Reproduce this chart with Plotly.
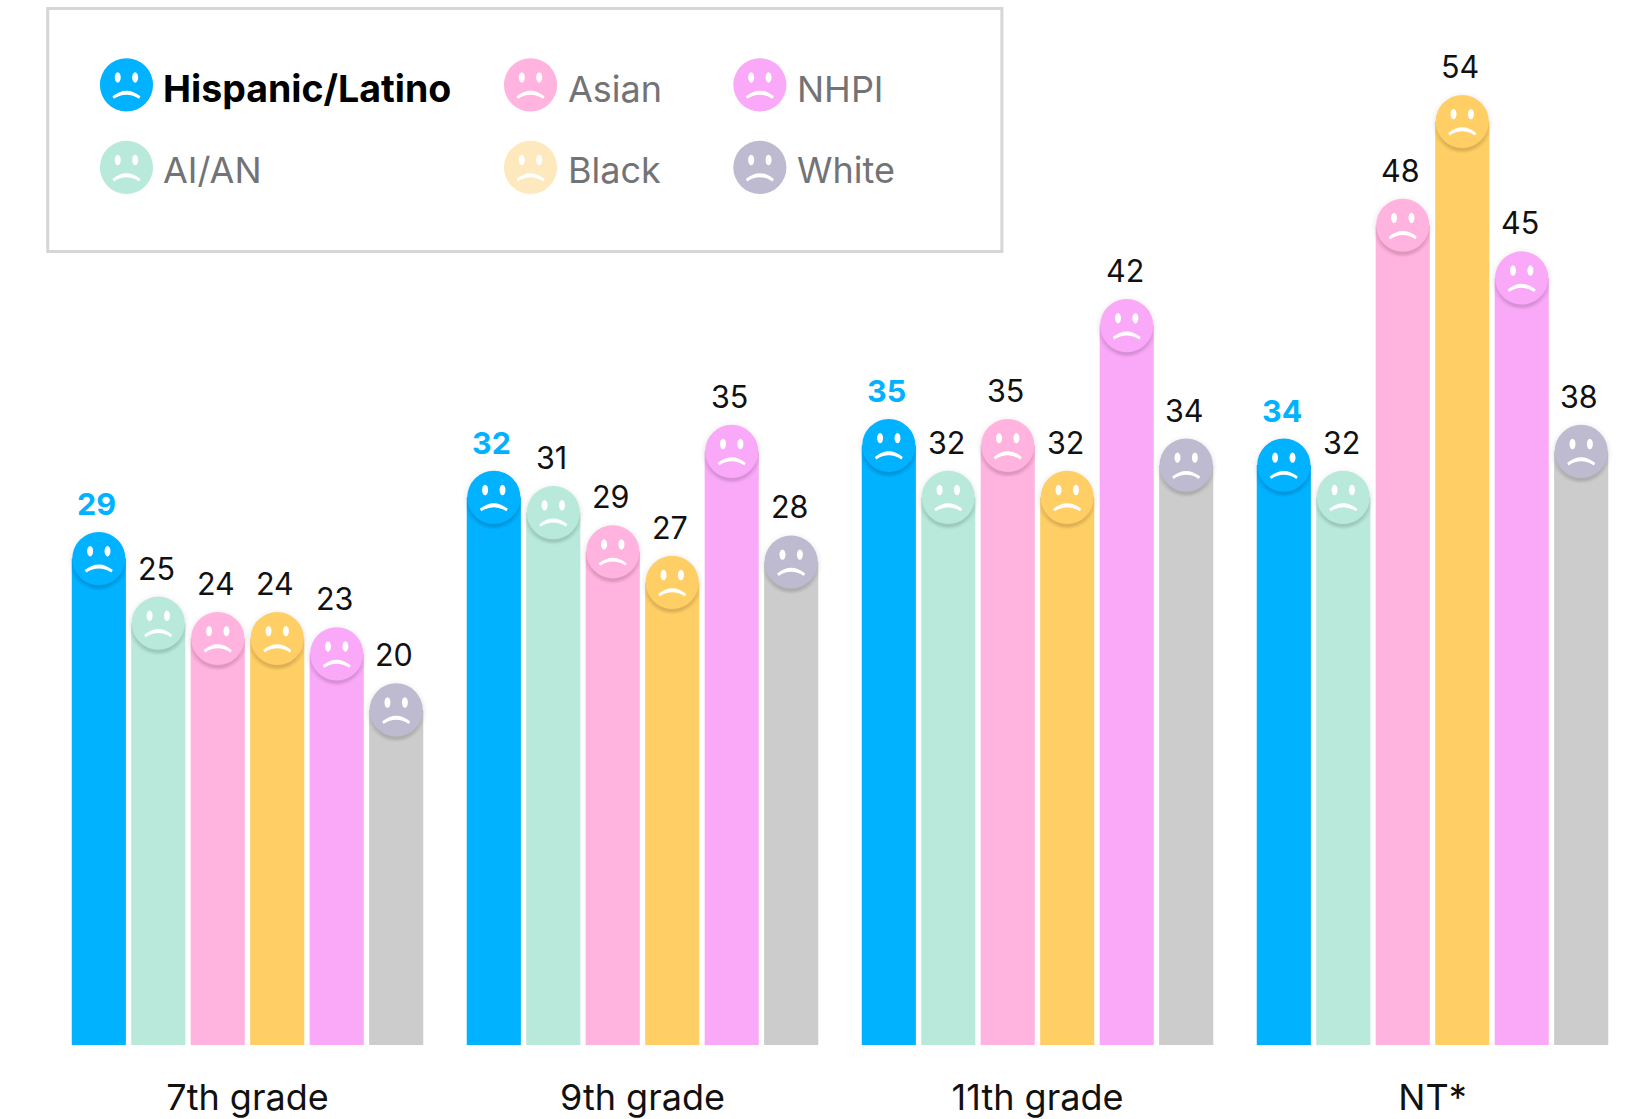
import plotly.graph_objects as go

WIDTH, HEIGHT = 1635, 1119
L, R, T, B = 50.25, 5, 0, 72
PLOT_W = WIDTH - L - R
PLOT_H = HEIGHT - T - B
FONT = "Inter"

grades = ["7th grade", "9th grade", "11th grade", "NT*"]
groups = ["Hispanic/Latino", "AI/AN", "Asian", "Black", "NHPI", "White"]

# bar heights as drawn in the picture
hispanic_heights = [28.6, 32.2, 35.25, 34.1]
aian_heights = [24.8, 31.3, 32.2, 32.2]
asian_heights = [23.9, 29.0, 35.25, 48.2]
black_heights = [23.9, 27.2, 32.2, 54.3]
nhpi_heights = [23.0, 34.9, 42.3, 45.1]
white_heights = [19.7, 28.4, 34.1, 34.9]

# the values printed above the bars
hispanic_labels = [29, 32, 35, 34]
aian_labels = [25, 31, 32, 32]
asian_labels = [24, 29, 35, 48]
black_labels = [24, 27, 32, 54]
nhpi_labels = [23, 35, 42, 45]
white_labels = [20, 28, 34, 38]

heights = [hispanic_heights, aian_heights, asian_heights, black_heights, nhpi_heights, white_heights]
labels = [hispanic_labels, aian_labels, asian_labels, black_labels, nhpi_labels, white_labels]

bar_colors = ["#00B2FF", "#B9E9DB", "#FFB3DE", "#FFCF66", "#F9A9F8", "#CCCCCC"]
face_colors = ["#00B2FF", "#B9E9DB", "#FFB3DE", "#FFCF66", "#F9A9F8", "#BEBBD1"]
legend_colors = ["#00B2FF", "#B9E9DB", "#FFB3DE", "#FDE9BD", "#F9A9F8", "#BEBBD1"]

BARGAP = 0.0966
GROUPGAP = 0.09
PX_PER_UNIT = 17.04
RADIUS = 26.6
X = list(range(len(grades)))

fig = go.Figure()
for name, h, c in zip(groups, heights, bar_colors):
    fig.add_trace(go.Bar(x=X, y=h, name=name, marker=dict(color=c, line=dict(width=0)), showlegend=False, hoverinfo="skip"))

shapes, annotations = [], []


def face(xa, ya, xref, yref, color, shadow=True):
    base = dict(xref=xref, yref=yref, xsizemode="pixel", ysizemode="pixel", xanchor=xa, yanchor=ya, layer="above")
    out = []
    if shadow:
        for dy, grow, op in [(1, 5, 0.008), (1.5, 4, 0.01), (2, 3, 0.012), (2.5, 2, 0.015), (3, 1, 0.018),
                             (3.5, 0, 0.02), (4, -1, 0.022), (4.5, -2, 0.025)]:
            r = RADIUS + grow
            out.append(dict(type="circle", x0=-r, x1=r, y0=-dy - r, y1=-dy + r, fillcolor="#000000",
                            opacity=op, line=dict(width=0), **base))
    out.append(dict(type="circle", x0=-RADIUS, x1=RADIUS, y0=-RADIUS, y1=RADIUS, fillcolor=color,
                    line=dict(width=0), **base))
    for ex in (-8.7, 8.7):
        out.append(dict(type="circle", x0=ex - 3, x1=ex + 3, y0=2.2, y1=12.6, fillcolor="#FFFFFF",
                        line=dict(width=0), **base))
    out.append(dict(type="path", path="M -14 -11.5 Q 0 -0.2 14 -11.5 L 12.6 -14 Q 0 -5.6 -12.6 -14 Z",
                    fillcolor="#FFFFFF", line=dict(width=0), **base))
    return out


period = 1.0
outer = period * (1 - BARGAP)
pitch = outer / len(groups)
for s, (h, lab, fc) in enumerate(zip(heights, labels, face_colors)):
    for g, (v, t) in enumerate(zip(h, lab)):
        xc = g + (s - (len(groups) - 1) / 2) * pitch
        shapes += face(xc, v, "x", "y", fc)
        annotations.append(dict(x=xc, y=v, xref="x", yref="y", text=f"<b>{t}</b>" if s == 0 else str(t),
                                showarrow=False, yshift=55, xshift=-2, xanchor="center", yanchor="middle",
                                font=dict(family=FONT, size=30.5, color="#00B2FF" if s == 0 else "#111111")))


def px(x):
    return (x - L) / PLOT_W


def py(y):
    return 1 - (y - T) / PLOT_H


# legend frame and entries
shapes.append(dict(type="rect", xref="paper", yref="paper", x0=px(48), x1=px(1002), y0=py(8.5), y1=py(252),
                   line=dict(color="#D6D6D6", width=3), fillcolor="rgba(0,0,0,0)", layer="below"))
legend_x = [126.7, 126.7, 530.7, 530.7, 760, 760]
legend_y = [85, 167.7, 85, 167.7, 85, 167.7]
for i, name in enumerate(groups):
    shapes += face(px(legend_x[i]), py(legend_y[i]), "paper", "paper", legend_colors[i], shadow=False)
    annotations.append(dict(x=px(legend_x[i] + 35), y=py(legend_y[i] + (4 if i % 2 == 0 else 3)), xref="paper", yref="paper",
                            text=f"<b>{name}</b>" if i == 0 else name, showarrow=False, xanchor="left", yanchor="middle",
                            font=dict(family=FONT, size=37.5 if i == 0 else 36, color="#000000" if i == 0 else "#737376")))

fig.update_layout(
    width=WIDTH, height=HEIGHT, autosize=False,
    margin=dict(l=L, r=R, t=T, b=B, pad=0),
    paper_bgcolor="#FFFFFF", plot_bgcolor="#FFFFFF",
    barmode="group", bargap=BARGAP, bargroupgap=GROUPGAP,
    shapes=shapes, annotations=annotations, hovermode=False,
    xaxis=dict(range=[-0.5, 3.5], tickmode="array", tickvals=X, ticktext=grades, ticks="", showgrid=False,
               zeroline=False, showline=False, ticklabelstandoff=28,
               tickfont=dict(family=FONT, size=36, color="#111111")),
    yaxis=dict(range=[0, PLOT_H / PX_PER_UNIT], showticklabels=False, ticks="", showgrid=False,
               zeroline=False, showline=False),
)
fig.write_html("out.html", config=dict(displayModeBar=False),
               post_script="document.body.style.margin='0';document.documentElement.style.overflow='hidden';")
